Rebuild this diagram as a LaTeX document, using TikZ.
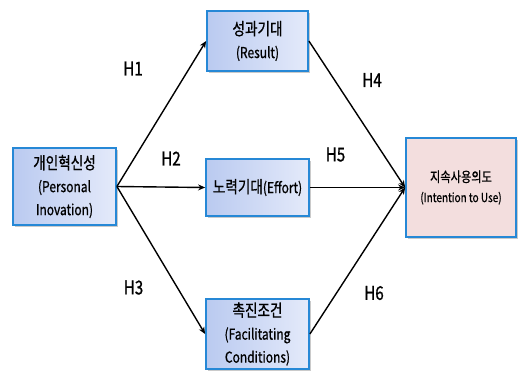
\documentclass[tikz,border=0pt]{standalone}
\usepackage{fontspec}
\setmainfont{Noto Sans CJK KR}[FakeStretch=0.8, FakeBold=0.8]
\usetikzlibrary{arrows.meta,shadows}
\definecolor{bord}{RGB}{38,136,214}
\definecolor{bluedark}{RGB}{186,202,240}
\definecolor{bluelight}{RGB}{228,234,250}
\definecolor{pinkfill}{RGB}{243,222,222}
\newcommand{\korbig}[1]{{\fontsize{17}{23}\selectfont #1}}
\newcommand{\korsmall}[1]{{\fontsize{14}{20}\selectfont #1}}
\tikzset{
  box/.style={draw=bord, line width=1.8pt, left color=bluedark, right color=bluelight,
    align=center, inner sep=2pt, font=\fontsize{15}{23}\selectfont,
    drop shadow={shadow xshift=1.5pt, shadow yshift=-1.5pt, fill=black!35, opacity=0.6}},
  pbox/.style={draw=bord, line width=1.8pt, fill=pinkfill, align=center, inner sep=2pt,
    font=\fontsize{12.5}{20}\selectfont,
    drop shadow={shadow xshift=1.5pt, shadow yshift=-1.5pt, fill=black!35, opacity=0.6}},
  arr/.style={-{Stealth[length=7pt,width=6pt]}, line width=1.4pt, black},
  hlab/.style={font=\fontsize{19}{22}\selectfont}
}
\begin{document}
\begin{tikzpicture}[x=1pt,y=1pt]
\useasboundingbox (0,0) rectangle (521,376);
\node[box, minimum width=103pt, minimum height=77pt] (pi) at (64.5,189.5) {\korbig{개인혁신성}\\(Personal\\Inovation)};
\node[box, minimum width=101pt, minimum height=60pt] (re) at (257.5,335) {\korbig{성과기대}\\(Result)};
\node[box, minimum width=103pt, minimum height=57pt] (ef) at (257.5,188.5) {\korbig{노력기대}(Effort)};
\node[box, minimum width=103pt, minimum height=70pt] (fc) at (257.5,42) {\korbig{촉진조건}\\(Facilitating\\Conditions)};
\node[pbox, minimum width=110pt, minimum height=99pt] (iu) at (461,188.5) {\korsmall{지속사용의도}\\(Intention to Use)};
\draw[arr] (pi.east) -- (re.west);
\draw[arr] (pi.east) -- (ef.west);
\draw[arr] (pi.east) -- (fc.west);
\draw[arr] (re.east) -- (iu.west);
\draw[arr] (ef.east) -- (iu.west);
\draw[arr] (fc.east) -- (iu.west);
\node[hlab] (h1) at (133,307.5) {H1};
\node[hlab] (h2) at (171,217.5) {H2};
\node[hlab] (h3) at (133.5,88.5) {H3};
\node[hlab] (h4) at (372,296) {H4};
\node[hlab] (h5) at (335.5,221.5) {H5};
\node[hlab] (h6) at (374,83) {H6};
\end{tikzpicture}
\end{document}
